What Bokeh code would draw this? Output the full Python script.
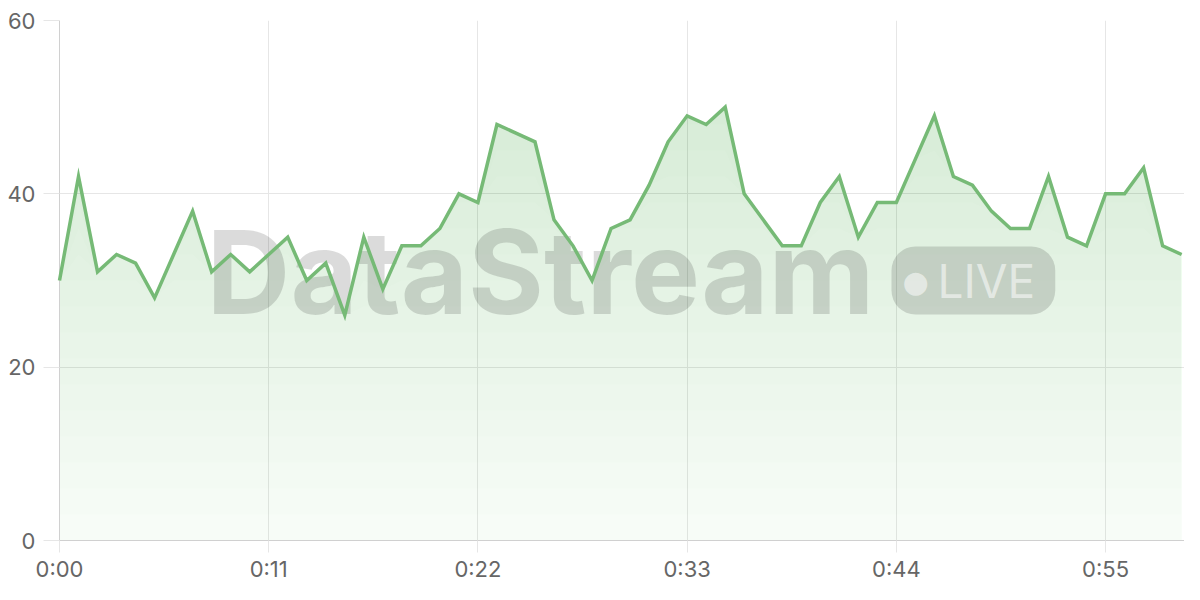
import numpy as np
from bokeh.plotting import figure
from bokeh.models import FixedTicker, Label, Range1d
from bokeh.embed import file_html
from bokeh.resources import INLINE

# ---- data ----
seconds = list(range(60))
values = [30, 42, 31, 33, 32, 28, 33, 38, 31, 33,
          31, 33, 35, 30, 32, 26, 35, 29, 34, 34,
          36, 40, 39, 48, 47, 46, 37, 34, 30, 36,
          37, 41, 46, 49, 48, 50, 40, 37, 34, 34,
          39, 42, 35, 39, 39, 44, 49, 42, 41, 38,
          36, 36, 42, 35, 34, 40, 40, 43, 34, 33]
x_ticks = [0, 11, 22, 33, 44, 55]
x_tick_labels = ["0:00", "0:11", "0:22", "0:33", "0:44", "0:55"]
y_ticks = [0, 20, 40, 60]

LINE = "#76ba76"
FILL = "#4caf50"
GRID = "#e6e6e6"
AXIS = "#d0d0d0"
LABEL = "#666666"
FONT = "Inter"

p = figure(width=1184, height=584, output_backend="svg", toolbar_location=None,
           x_range=Range1d(0, 59.15), y_range=Range1d(0, 60),
           min_border_left=59, min_border_right=0, min_border_top=20, min_border_bottom=44)
p.outline_line_color = None
p.background_fill_color = "white"
p.border_fill_color = "white"

# gradient-like fill: stacked translucent bands
y = np.array(values, dtype=float)
levels = np.arange(0, 60, 3)
for i, L in enumerate(levels):
    p.varea(x=seconds, y1=np.minimum(y, L), y2=y, fill_color=FILL,
            fill_alpha=0.045 if i == 0 else 0.011)

# watermark
wm = Label(x=481, y=269, x_units="screen", y_units="screen", text="DataStream",
           text_font=FONT, text_font_style="bold", text_font_size="116px",
           text_color="black", text_alpha=0.14, text_align="center",
           text_baseline="middle")
p.add_layout(wm)
pill = Label(x=832, y=260, x_units="screen", y_units="screen", text="LIVE",
             text_font=FONT, text_font_size="46px", text_color="white", text_alpha=0.55,
             text_align="left", text_baseline="middle",
             background_fill_color="black", background_fill_alpha=0.14,
             border_radius=24, padding=dict(left=46, right=20, top=6, bottom=6))
p.add_layout(pill)
dot = Label(x=856, y=259, x_units="screen", y_units="screen", text="\u25cf",
            text_font="DejaVu Sans", text_font_size="30px", text_color="white",
            text_alpha=0.55, text_align="center", text_baseline="middle")
p.add_layout(dot)

r = p.line(seconds, values, line_color=LINE, line_width=3.5, line_join="miter")
r.level = "overlay"

# axes
for ax in (p.xaxis[0], p.yaxis[0]):
    ax.axis_line_color = AXIS
    ax.major_tick_line_color = GRID
    ax.minor_tick_line_color = None
    ax.major_tick_in = 0
    ax.major_label_text_color = LABEL
    ax.major_label_text_font = FONT
    ax.major_label_text_font_size = "22px"

p.xaxis.ticker = FixedTicker(ticks=x_ticks)
p.xaxis.major_label_overrides = {t: l for t, l in zip(x_ticks, x_tick_labels)}
p.xaxis.major_tick_out = 12
p.xaxis.major_label_standoff = 3
p.yaxis.ticker = FixedTicker(ticks=y_ticks)
p.yaxis.major_tick_out = 16
p.yaxis.major_label_standoff = 8

p.xgrid.grid_line_color = GRID
p.ygrid.grid_line_color = GRID

open("out.html", "w").write(file_html(p, INLINE))
